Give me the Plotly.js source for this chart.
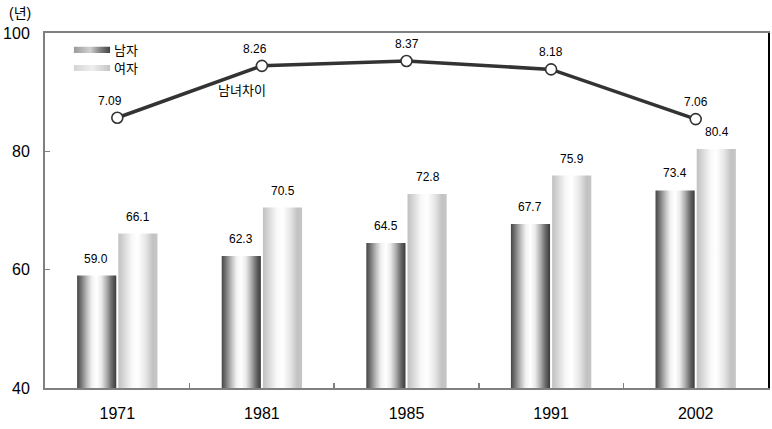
<!DOCTYPE html>
<html>
<head>
<meta charset="utf-8">
<script src="https://cdn.plot.ly/plotly-3.0.1.min.js"></script>
<style>
html,body{margin:0;padding:0;background:#fff;}
#chart{width:772px;height:429px;}
</style>
</head>
<body>
<div id="chart"></div>
<script>
// ---- data ----
var years = ['1971', '1981', '1985', '1991', '2002'];
var male = [59.0, 62.3, 64.5, 67.7, 73.4];
var female = [66.1, 70.5, 72.8, 75.9, 80.4];
var gap = [7.09, 8.26, 8.37, 8.18, 7.06];
var seriesNames = ['남자', '여자'];
var lineName = '남녀차이';
var yTicks = [40, 60, 80, 100];

var FONT = "'Liberation Sans', Arial, 'Noto Sans CJK KR', sans-serif";

var traces = [
  {type:'bar', x:years, y:male, name:seriesNames[0], marker:{color:'#8a8a8a', line:{width:0}}, showlegend:false},
  {type:'bar', x:years, y:female, name:seriesNames[1], marker:{color:'#dcdcdc', line:{width:0}}, showlegend:false},
  {type:'scatter', mode:'lines+markers', x:years, y:gap, yaxis:'y2', name:lineName,
   line:{color:'#333333', width:3.5},
   marker:{size:11, color:'#ffffff', line:{color:'#333333', width:1.6}},
   cliponaxis:false, showlegend:false}
];

var annotations = [];
years.forEach(function(yr, i){
  annotations.push({x:i, y:male[i], xref:'x', yref:'y', text:male[i].toFixed(1), showarrow:false,
    xshift:-21, yshift:17, yanchor:'middle', font:{family:FONT, size:12, color:'#000'}});
  annotations.push({x:i, y:female[i], xref:'x', yref:'y', text:female[i].toFixed(1), showarrow:false,
    xshift:21, yshift:17, yanchor:'middle', font:{family:FONT, size:12, color:'#000'}});
  annotations.push({x:i, y:gap[i], xref:'x', yref:'y2', text:gap[i].toFixed(2), showarrow:false,
    xshift:(i<2 ? -7 : 0), yshift:17, yanchor:'middle', font:{family:FONT, size:12, color:'#000'}});
});
annotations.push({x:0.272, y:0.839, xref:'paper', yref:'paper', text:lineName, showarrow:false,
  xanchor:'center', yanchor:'middle', font:{family:FONT, size:13, color:'#000'}});
annotations.push({x:-0.035, y:1.057, xref:'paper', yref:'paper', text:'(년)', showarrow:false,
  xanchor:'center', yanchor:'middle', font:{family:FONT, size:14, color:'#000'}});
// legend labels
annotations.push({x:0.093, y:0.952, xref:'paper', yref:'paper', text:seriesNames[0], showarrow:false,
  xanchor:'left', yanchor:'middle', font:{family:FONT, size:13, color:'#000'}});
annotations.push({x:0.093, y:0.901, xref:'paper', yref:'paper', text:seriesNames[1], showarrow:false,
  xanchor:'left', yanchor:'middle', font:{family:FONT, size:13, color:'#000'}});

var shapes = [
  {type:'rect', xref:'paper', yref:'paper', x0:0.040, x1:0.090, y0:0.944, y1:0.961, line:{width:0}, fillcolor:'#777', layer:'above'},
  {type:'rect', xref:'paper', yref:'paper', x0:0.040, x1:0.090, y0:0.893, y1:0.910, line:{width:0}, fillcolor:'#ccc', layer:'above'}
];

var layout = {
  width:772, height:429,
  margin:{l:45, r:4, t:33, b:41},
  paper_bgcolor:'#ffffff', plot_bgcolor:'#ffffff',
  font:{family:FONT, color:'#000'},
  barmode:'group', bargap:0.43, bargroupgap:0.05,
  showlegend:false,
  xaxis:{type:'category', range:[-0.5, 4.5], showline:true, linecolor:'#808080', linewidth:2, mirror:true,
    ticks:'inside', ticklen:5, tickcolor:'#808080', tickwidth:1.5, tickson:'boundaries',
    showgrid:false, zeroline:false, tickfont:{family:FONT, size:16, color:'#000'}, ticklabelstandoff:10},
  yaxis:{range:[40,100], tickvals:yTicks, ticktext:yTicks.map(String), showline:true, linecolor:'#808080', linewidth:2,
    ticks:'inside', ticklen:5, tickcolor:'#808080', tickwidth:1.5, showgrid:false, zeroline:false,
    tickfont:{family:FONT, size:16, color:'#000'}, ticklabelstandoff:10},
  yaxis2:{range:[1,9], overlaying:'y', side:'right', showline:true, linecolor:'#000', linewidth:2,
    showticklabels:false, ticks:'', showgrid:false, zeroline:false},
  annotations:annotations,
  shapes:shapes
};

function addGrad(defs, id, stops){
  var ns = 'http://www.w3.org/2000/svg';
  var g = document.createElementNS(ns, 'linearGradient');
  g.setAttribute('id', id);
  g.setAttribute('x1','0'); g.setAttribute('y1','0'); g.setAttribute('x2','1'); g.setAttribute('y2','0');
  stops.forEach(function(s){
    var st = document.createElementNS(ns, 'stop');
    st.setAttribute('offset', s[0]);
    st.setAttribute('stop-color', s[1]);
    g.appendChild(st);
  });
  defs.appendChild(g);
}

Plotly.newPlot('chart', traces, layout, {staticPlot:true, displayModeBar:false}).then(function(gd){
  var svg = gd.querySelector('svg.main-svg');
  var defs = svg.querySelector('defs');
  if(!defs){ defs = document.createElementNS('http://www.w3.org/2000/svg','defs'); svg.insertBefore(defs, svg.firstChild); }
  addGrad(defs, 'gradMale', [['0%','#454545'],['12%','#7d7d7d'],['25%','#bdbdbd'],['38%','#f2f2f2'],['50%','#ffffff'],['62%','#eaeaea'],['75%','#b0b0b0'],['88%','#6a6a6a'],['100%','#3a3a3a']]);
  addGrad(defs, 'gradFemale', [['0%','#c0c0c0'],['15%','#d8d8d8'],['35%','#f8f8f8'],['50%','#ffffff'],['70%','#e6e6e6'],['88%','#c2c2c2'],['100%','#c6c6c6']]);
  addGrad(defs, 'legMale', [['0%','#9a9a9a'],['45%','#d0d0d0'],['70%','#888'],['100%','#444']]);
  addGrad(defs, 'legFemale', [['0%','#d4d4d4'],['50%','#efefef'],['100%','#c4c4c4']]);
  var barTraces = gd.querySelectorAll('.barlayer .trace');
  var ids = ['gradMale','gradFemale'];
  barTraces.forEach(function(t, i){
    t.querySelectorAll('path').forEach(function(p){ p.style.fill = 'url(#' + ids[i] + ')'; });
  });
  var sh = gd.querySelectorAll('.shapelayer path');
  var legIds = ['legMale','legFemale'];
  sh.forEach(function(p, i){ if(legIds[i]) p.style.fill = 'url(#' + legIds[i] + ')'; p.style.opacity = 1; });
});
</script>
</body>
</html>
